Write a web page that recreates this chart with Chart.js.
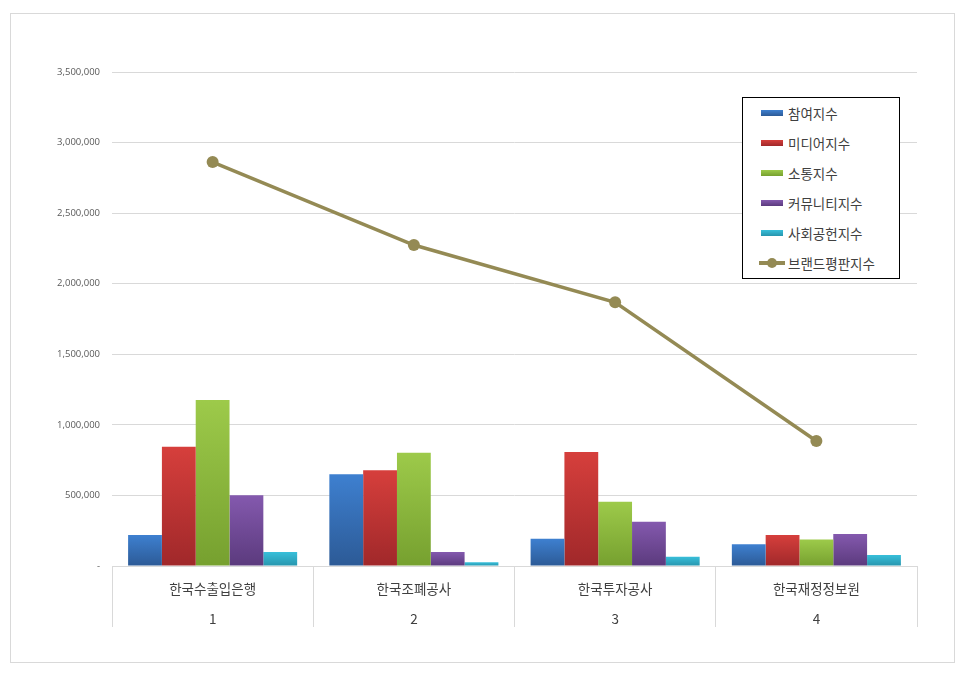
<!DOCTYPE html>
<html>
<head>
<meta charset="utf-8">
<script src="https://cdn.jsdelivr.net/npm/chart.js@4"></script>
<style>
  body { margin: 0; background: #fff; width: 966px; height: 675px; position: relative; overflow: hidden; }
  #frame { position: absolute; left: 10px; top: 13px; width: 943px; height: 648px; border: 1px solid #d9d9d9; }
  #legend { position: absolute; left: 742px; top: 97px; width: 156px; height: 180px; border: 1px solid #000; background: #fff;
    font-family: 'Noto Sans CJK KR', sans-serif; font-size: 13.5px; color: #404040; }
  .item { position: absolute; left: 18px; height: 20px; line-height: 20px; }
  .sw { position: absolute; left: 0; top: 7px; width: 22px; height: 6px; }
  .item span { position: absolute; left: 27px; white-space: nowrap; }
</style>
</head>
<body>
<div id="frame"><canvas id="chart" width="943" height="648"></canvas></div>
<div id="legend"></div>
<script>
const categories = ['한국수출입은행', '한국조폐공사', '한국투자공사', '한국재정정보원'];
const numbers = ['1', '2', '3', '4'];
const seriesNames = ['참여지수', '미디어지수', '소통지수', '커뮤니티지수', '사회공헌지수', '브랜드평판지수'];
const participation = [220000, 650000, 193000, 154000];
const media = [845000, 678000, 808000, 220000];
const communication = [1176000, 803000, 456000, 187000];
const community = [501000, 99000, 314000, 227000];
const social = [99000, 26000, 66000, 78000];
const brand = [2862000, 2274000, 1868000, 886000];
const yTicks = [0, 500000, 1000000, 1500000, 2000000, 2500000, 3000000, 3500000];

const barColors = [
  ['#3e80d0', '#2c5a96'],
  ['#d63f3c', '#a0282a'],
  ['#9dca4a', '#76a02f'],
  ['#8459ae', '#5b3a7d'],
  ['#38bfda', '#2795ad']
];
const lineColor = '#948a54';

function gradient(idx) {
  return function (ctx) {
    const chart = ctx.chart;
    const y = chart.scales.y;
    if (!chart.chartArea || !y || ctx.parsed === undefined) return barColors[idx][0];
    const top = y.getPixelForValue(ctx.parsed.y);
    const bottom = y.getPixelForValue(0);
    if (!isFinite(top) || !isFinite(bottom) || top === bottom) return barColors[idx][0];
    const g = chart.ctx.createLinearGradient(0, top, 0, bottom);
    g.addColorStop(0, barColors[idx][0]);
    g.addColorStop(1, barColors[idx][1]);
    return g;
  };
}

const barData = [participation, media, communication, community, social];
const datasets = barData.map((d, i) => ({
  type: 'bar',
  label: seriesNames[i],
  data: d,
  backgroundColor: gradient(i),
  borderWidth: 0,
  categoryPercentage: 0.84,
  barPercentage: 1,
  order: 2
}));
datasets.push({
  type: 'line',
  label: seriesNames[5],
  data: brand,
  borderColor: lineColor,
  backgroundColor: lineColor,
  borderWidth: 3.5,
  pointRadius: 6,
  pointBorderWidth: 0,
  pointBackgroundColor: lineColor,
  tension: 0,
  order: 1
});

new Chart(document.getElementById('chart'), {
  data: {
    labels: categories.map((c, i) => [c, numbers[i]]),
    datasets: datasets
  },
  options: {
    responsive: false,
    animation: false,
    layout: { padding: { left: 0, right: 37, top: 58, bottom: 35 } },
    plugins: { legend: { display: false }, tooltip: { enabled: false } },
    scales: {
      x: {
        grid: { offset: true, drawOnChartArea: false, tickLength: 61, color: '#d9d9d9' },
        border: { color: '#d9d9d9' },
        ticks: {
          padding: -53,
          color: '#404040',
          font: { family: "'Noto Sans CJK KR', sans-serif", size: 13.5, lineHeight: 2.2 }
        },
        afterFit: s => { s.height = 61; }
      },
      y: {
        min: 0,
        max: 3500000,
        afterBuildTicks: s => { s.ticks = yTicks.map(v => ({ value: v })); },
        grid: { color: '#d9d9d9', drawTicks: false },
        border: { display: false },
        ticks: {
          padding: 12,
          color: '#595959',
          font: { family: "'Open Sans', sans-serif", size: 9.5 },
          callback: v => v === 0 ? '-' : v.toLocaleString('en-US')
        },
        afterFit: s => { s.width = 101; }
      }
    }
  }
});

const legend = document.getElementById('legend');
seriesNames.forEach((name, i) => {
  const item = document.createElement('div');
  item.className = 'item';
  item.style.top = (5 + i * 30) + 'px';
  let sw;
  if (i < 5) {
    sw = '<div class="sw" style="background:linear-gradient(' + barColors[i][0] + ',' + barColors[i][1] + ')"></div>';
  } else {
    sw = '<div class="sw" style="top:8px;height:4px;left:-2px;width:26px;background:' + lineColor + '"></div>' +
         '<div class="sw" style="top:5px;left:6px;width:10px;height:10px;border-radius:5px;background:' + lineColor + '"></div>';
  }
  item.innerHTML = sw + '<span>' + name + '</span>';
  legend.appendChild(item);
});
</script>
</body>
</html>
